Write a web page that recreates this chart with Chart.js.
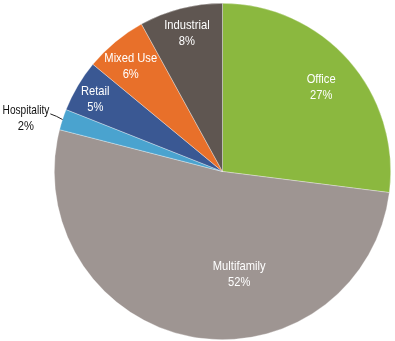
<!DOCTYPE html>
<html>
<head>
<meta charset="utf-8">
<script src="https://cdn.jsdelivr.net/npm/chart.js@4/dist/chart.umd.min.js"></script>
<style>
  html, body { margin: 0; padding: 0; background: #fff; }
  #wrap { width: 395px; height: 341px; }
</style>
</head>
<body>
<div id="wrap"><canvas id="mycanvas"></canvas></div>
<script>
var sectors = ['Office', 'Multifamily', 'Hospitality', 'Retail', 'Mixed Use', 'Industrial'];
var shares = [27, 52, 2, 5, 6, 8];
var sliceColors = ['#8bb83f', '#9e9592', '#4aa3cf', '#3a5893', '#e8702a', '#5f5651'];

var FONT = "'Liberation Sans', Arial, sans-serif";

// condensed look for the label text
function narrowText(ctx, text, x, y, sq) {
  ctx.save();
  ctx.translate(x, y);
  ctx.scale(sq, 1);
  ctx.fillText(text, 0, 0);
  ctx.restore();
}

// labels sit inside each slice; a small one gets a leader line out to the left
var sliceLabels = {
  id: 'sliceLabels',
  afterDatasetsDraw: function (chart, args, opts) {
    var ctx = chart.ctx;
    var arcs = chart.getDatasetMeta(0).data;
    ctx.save();
    ctx.font = '13px ' + FONT;
    ctx.textAlign = 'center';
    ctx.textBaseline = 'middle';
    arcs.forEach(function (arc, i) {
      var p = arc.getProps(['x', 'y', 'startAngle', 'endAngle', 'outerRadius'], true);
      var place = opts.place[i];
      var mid = (p.startAngle + p.endAngle) / 2 + place.shift * Math.PI / 180;
      var lines = [sectors[i], shares[i] + '%'];
      if (place.outside) {
        var sq = 0.78;
        var ox = p.x + Math.cos(mid) * p.outerRadius;
        var oy = p.y + Math.sin(mid) * p.outerRadius;
        var ex = p.x + Math.cos(mid) * p.outerRadius * place.r;
        var ey = p.y + Math.sin(mid) * p.outerRadius * place.r;
        ctx.strokeStyle = '#222';
        ctx.lineWidth = 1;
        ctx.beginPath();
        ctx.moveTo(ox, oy);
        ctx.quadraticCurveTo(ex + 5, ey, ex - 1, ey - 2);
        ctx.stroke();
        var w = ctx.measureText(lines[0]).width * sq;
        var cx = ex - 2 - w / 2;
        ctx.fillStyle = '#111';
        narrowText(ctx, lines[0], cx, ey - 5, sq);
        narrowText(ctx, lines[1], cx, ey + 11, 0.86);
      } else {
        var tx = p.x + Math.cos(mid) * p.outerRadius * place.r;
        var ty = p.y + Math.sin(mid) * p.outerRadius * place.r;
        ctx.fillStyle = '#fff';
        narrowText(ctx, lines[0], tx, ty - 8, 0.86);
        narrowText(ctx, lines[1], tx, ty + 8, 0.86);
      }
    });
    ctx.restore();
  }
};

var ctx = document.getElementById('mycanvas').getContext('2d');
var pieChart = new Chart(ctx, {
  type: 'pie',
  data: {
    labels: sectors,
    datasets: [{
      data: shares,
      backgroundColor: sliceColors,
      borderColor: 'rgba(255,255,255,0.55)',
      borderWidth: 0.6
    }]
  },
  options: {
    responsive: true,
    maintainAspectRatio: false,
    animation: false,
    layout: { padding: { left: 54, right: 4, top: 3, bottom: 1 } },
    plugins: {
      legend: { display: false },
      tooltip: { enabled: false },
      sliceLabels: {
        place: [
          { r: 0.77, shift: 1 },
          { r: 0.62, shift: -20 },
          { r: 1.07, shift: 0, outside: true },
          { r: 0.87, shift: -1 },
          { r: 0.83, shift: -1.5 },
          { r: 0.85, shift: 0 }
        ]
      }
    }
  },
  plugins: [sliceLabels]
});
</script>
</body>
</html>
